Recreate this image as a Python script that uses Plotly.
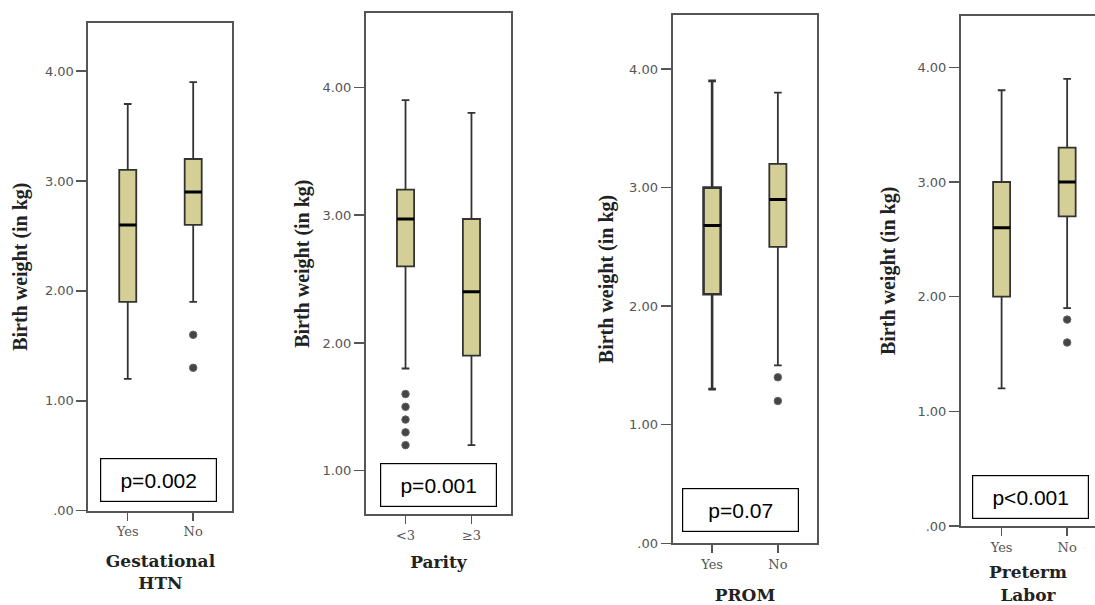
import plotly.graph_objects as go

# ---------------- data ----------------
panel_titles = ["Gestational<br>HTN", "Parity", "PROM", "Preterm<br>Labor"]
categories = [["Yes", "No"], ["<3", "≥3"], ["Yes", "No"], ["Yes", "No"]]
lower_whisker = [[1.2, 1.9], [1.8, 1.2], [1.3, 1.5], [1.2, 1.9]]
q1 = [[1.9, 2.6], [2.6, 1.9], [2.1, 2.5], [2.0, 2.7]]
median = [[2.6, 2.9], [2.97, 2.4], [2.68, 2.9], [2.6, 3.0]]
q3 = [[3.1, 3.2], [3.2, 2.97], [3.0, 3.2], [3.0, 3.3]]
upper_whisker = [[3.7, 3.9], [3.9, 3.8], [3.9, 3.8], [3.8, 3.9]]
outliers = [
    [[], [1.6, 1.3]],
    [[1.6, 1.5, 1.4, 1.3, 1.2], []],
    [[], [1.4, 1.2]],
    [[], [1.8, 1.6]],
]
p_values = ["p=0.002", "p=0.001", "p=0.07", "p<0.001"]
y_title = "Birth weight (in kg)"
y_tick_values = [0, 1, 2, 3, 4]
y_tick_labels = [".00", "1.00", "2.00", "3.00", "4.00"]

# ---------------- layout geometry / style ----------------
x_domains = [[0.0808, 0.2123], [0.3342, 0.4667], [0.6143, 0.7464], [0.8776, 1.0]]
y_domains = [[0.1559, 0.9625], [0.1504, 0.978], [0.102, 0.9757], [0.1306, 0.974]]
y_ranges = [[0, 4.44], [0.661, 4.58], [0, 4.458], [0, 4.45]]
x_ranges = [[-0.6, 1.6], [-0.6, 1.6], [-0.6, 1.6], [-0.62, 1.425]]
y_standoffs = [12, 7, 10, 16]
x_standoffs = [17, 14, 18, 13]
pbox_pos = [(0.4875, 0.063), (0.50, 0.057), (0.471, 0.0624), (0.517, 0.0568)]
box_line_widths = [1.8, 1.8, 1.8, 1.8]

FILL = "#d4cf96"
FRAME = "#555555"
BOX_W = 0.26

fig = go.Figure()

for i in range(4):
    ax = "" if i == 0 else str(i + 1)
    xref, yref = "x" + ax, "y" + ax
    cats = categories[i]
    # main boxes
    for j, c in enumerate(cats):
        lw = box_line_widths[i] + (0.8 if (i == 2 and j == 0) else 0)
        fig.add_trace(go.Box(
            x=[c], q1=[q1[i][j]], median=[median[i][j]], q3=[q3[i][j]],
            lowerfence=[lower_whisker[i][j]], upperfence=[upper_whisker[i][j]],
            width=BOX_W, whiskerwidth=0.45, boxpoints=False,
            fillcolor=FILL, line=dict(color="#333333", width=lw),
            xaxis=xref, yaxis=yref, showlegend=False, hoverinfo="skip",
        ))
    # thick black median line (zero-height box at the median)
    fig.add_trace(go.Box(
        x=cats, q1=median[i], median=median[i], q3=median[i],
        lowerfence=median[i], upperfence=median[i],
        width=BOX_W, whiskerwidth=0, boxpoints=False,
        fillcolor="rgba(0,0,0,0)", line=dict(color="#000000", width=3),
        xaxis=xref, yaxis=yref, showlegend=False, hoverinfo="skip",
    ))
    # outliers
    ox, oy = [], []
    for j, c in enumerate(cats):
        for v in outliers[i][j]:
            ox.append(c)
            oy.append(v)
    if ox:
        fig.add_trace(go.Scatter(
            x=ox, y=oy, mode="markers",
            marker=dict(size=7.5, color="#454545", line=dict(color="#666666", width=1)),
            xaxis=xref, yaxis=yref, showlegend=False, hoverinfo="skip",
        ))

    # axes
    tv = [v for v in y_tick_values if y_ranges[i][0] <= v <= y_ranges[i][1]]
    tt = [y_tick_labels[y_tick_values.index(v)] for v in tv]
    xa = dict(
        domain=x_domains[i], range=x_ranges[i], type="category",
        categoryorder="array", categoryarray=cats,
        showline=True, linecolor=FRAME, linewidth=2, mirror=True,
        ticks="outside", ticklen=8, tickwidth=1.5, tickcolor=FRAME,
        tickfont=dict(family="DejaVu Serif", size=13, color="#555555"),
        showgrid=False, zeroline=False, automargin=False, fixedrange=True,
        anchor=yref,
        title=dict(text=panel_titles[i], standoff=x_standoffs[i],
                   font=dict(family="DejaVu Serif", size=17, color="#222222", weight="bold")),
    )
    ya = dict(
        domain=y_domains[i], range=y_ranges[i],
        showline=True, linecolor=FRAME, linewidth=2, mirror=(i != 3),
        ticks="outside", ticklen=10, tickwidth=1.5, tickcolor=FRAME,
        tickvals=tv, ticktext=tt,
        tickfont=dict(family="DejaVu Sans", size=13, color="#555555"),
        showgrid=False, zeroline=False, automargin=False, fixedrange=True,
        anchor=xref,
        title=dict(text=y_title, standoff=y_standoffs[i],
                   font=dict(family="Liberation Serif", size=20, color="#222222", weight="bold")),
    )
    fig.layout["xaxis" + ax] = xa
    fig.layout["yaxis" + ax] = ya

    # p-value box
    px, py = pbox_pos[i]
    fig.add_annotation(
        text=p_values[i], xref=xref + " domain", yref=yref + " domain",
        x=px, y=py, xanchor="center", yanchor="middle", showarrow=False,
        width=113, height=40, borderpad=1, borderwidth=1.2,
        bordercolor="#000000", bgcolor="#ffffff", align="center",
        font=dict(family="Liberation Sans", size=21, color="#000000"),
    )

fig.update_layout(
    width=1095, height=605,
    margin=dict(l=0, r=0, t=0, b=0),
    paper_bgcolor="white", plot_bgcolor="white",
    boxmode="overlay", showlegend=False,
)

fig.write_html(
    "out.html",
    config={"displayModeBar": False, "staticPlot": True},
    post_script="document.body.style.margin='0';document.body.style.padding='0';"
                "document.body.style.overflow='hidden';",
)
